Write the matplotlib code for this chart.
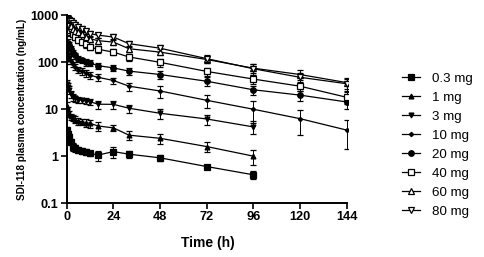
import matplotlib.pyplot as plt
from matplotlib.lines import Line2D
from matplotlib.ticker import FixedLocator, NullLocator

plt.rcParams['font.family'] = ['Liberation Sans', 'DejaVu Sans']

# sampling times (h)
t_short = [0.25, 0.5, 1, 2, 3, 4, 6, 8, 10, 12, 16, 24, 32, 48, 72, 96]
t_long = [0.25, 0.5, 1, 2, 3, 4, 6, 8, 10, 12, 16, 24, 32, 48, 72, 96, 120, 144]

# mean concentrations (ng/mL) and SD per dose
c_03 = [3.6, 3.0, 2.6, 2.0, 1.6, 1.5, 1.35, 1.3, 1.25, 1.15, 1.05, 1.25, 1.1, 0.92, 0.6, 0.4]
e_03 = [0.6, 0.5, 0.4, 0.3, 0.3, 0.25, 0.2, 0.2, 0.2, 0.15, 0.25, 0.35, 0.2, 0.15, 0.06, 0.08]
c_1 = [12, 9.5, 8, 7, 6.5, 6.0, 5.6, 5.4, 5.2, 5.0, 4.4, 4.0, 2.8, 2.4, 1.6, 1.0]
e_1 = [2, 1.5, 1.2, 1, 1, 1, 0.9, 0.9, 1, 1, 1, 0.6, 0.6, 0.6, 0.4, 0.35]
c_3 = [35, 30, 26, 21, 18, 17, 16, 15.5, 15, 14.5, 12.8, 12.7, 10.5, 8.2, 6.2, 4.2]
e_3 = [8, 6, 5, 4, 3, 2.5, 2.5, 2, 2, 2, 2.5, 2.5, 2, 2, 1.5, 1.3]
c_10 = [110, 150, 130, 105, 90, 80, 70, 65, 58, 53, 48, 41, 31, 24.5, 15.5, 10, 6.3, 3.6]
e_10 = [20, 25, 20, 15, 12, 10, 10, 10, 9, 9, 8, 6, 6, 7, 5, 5, 3.5, 2.2]
c_20 = [200, 260, 230, 190, 160, 140, 120, 110, 100, 97, 85, 76, 65, 55, 39.5, 26, 20, 14.3]
e_20 = [40, 50, 40, 30, 25, 20, 18, 15, 15, 15, 12, 12, 12, 10, 8, 6, 5, 4]
c_40 = [450, 600, 560, 480, 400, 350, 300, 270, 240, 211, 190, 165, 130, 100, 64, 44, 31, 18]
e_40 = [80, 100, 90, 80, 60, 50, 45, 40, 35, 30, 30, 25, 22, 20, 12, 9, 7, 5]
c_60 = [500, 700, 650, 600, 520, 470, 440, 400, 350, 318, 290, 270, 195, 165, 115, 75, 55, 37]
e_60 = [90, 120, 110, 100, 80, 70, 60, 55, 50, 45, 40, 40, 30, 25, 20, 15, 12, 10]
c_80 = [600, 850, 800, 750, 680, 620, 565, 520, 460, 408, 380, 346, 250, 200, 120, 73, 48, 35]
e_80 = [100, 150, 130, 120, 100, 90, 80, 70, 60, 55, 50, 50, 40, 30, 25, 18, 12, 10]

labels = ['0.3 mg', '1 mg', '3 mg', '10 mg', '20 mg', '40 mg', '60 mg', '80 mg']
series = [(t_short, c_03, e_03), (t_short, c_1, e_1), (t_short, c_3, e_3),
          (t_long, c_10, e_10), (t_long, c_20, e_20), (t_long, c_40, e_40),
          (t_long, c_60, e_60), (t_long, c_80, e_80)]
markers = ['s', '^', 'v', 'D', 'o', 's', '^', 'v']
filled = [True, True, True, True, True, False, False, False]
msizes = [4, 3.5, 3.5, 2.2, 4, 5, 5, 5]

fig = plt.figure(figsize=(4.84, 2.57), dpi=100)
ax = fig.add_axes([0.138, 0.21, 0.582, 0.73])

handles = []
for (t, c, e), lab, m, f, ms in zip(series, labels, markers, filled, msizes):
    style = dict(color='black', lw=0.9, marker=m, ms=ms,
                 mfc='black' if f else 'white', mec='black', mew=0.9)
    ax.errorbar(t, c, yerr=e, elinewidth=0.7, capsize=2, capthick=0.7, **style)
    handles.append(Line2D([], [], label=lab, **style))

ax.set_yscale('log')
ax.set_ylim(0.1, 1000)
ax.set_xlim(0, 145)
ax.xaxis.set_major_locator(FixedLocator([0, 24, 48, 72, 96, 120, 144]))
ax.yaxis.set_major_locator(FixedLocator([0.1, 1, 10, 100, 1000]))
ax.yaxis.set_minor_locator(NullLocator())
ax.set_yticklabels(['0.1', '1', '10', '100', '1000'])
for s in ['top', 'right']:
    ax.spines[s].set_visible(False)
for s in ['left', 'bottom']:
    ax.spines[s].set_linewidth(1.4)
ax.spines['bottom'].set_bounds(0, 144)
ax.tick_params(width=1.2, length=4, labelsize=9.2, pad=2)
for lbl in ax.get_xticklabels() + ax.get_yticklabels():
    lbl.set_fontweight('bold')

ax.set_xlabel('Time (h)', fontsize=10, fontweight='bold', labelpad=9)
ax.set_ylabel('SDI-118 plasma concentration (ng/mL)', fontsize=7.2,
              fontweight='bold', labelpad=2)

fig.legend(handles=handles, loc='upper left', bbox_to_anchor=(0.805, 0.765),
           frameon=False, fontsize=9.6, handlelength=1.4, labelspacing=0.5,
           handletextpad=0.9)

fig.savefig('out.png', dpi=100)
